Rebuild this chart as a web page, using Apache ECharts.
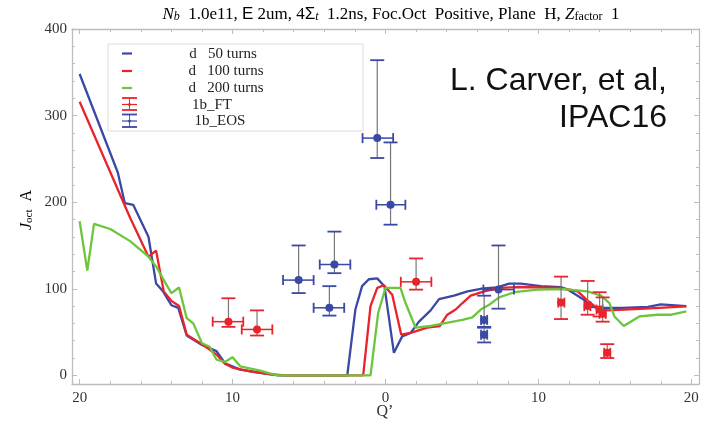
<!DOCTYPE html>
<html>
<head>
<meta charset="utf-8">
<script src="https://cdn.jsdelivr.net/npm/echarts@6/dist/echarts.min.js"></script>
<style>html,body{margin:0;padding:0;background:#fff}#c{width:706px;height:435px}</style>
</head>
<body>
<div id="c"></div>
<script>
// ---- data (Q', J_oct in A) ----
const q50  = [-20,-17.5,-17.05,-16.5,-15.5,-15.0,-14.55,-14.0,-13.55,-13.0,-12.0,-11.05,-10.5,-9.5,-8.2,-7,-2.5,-1.97,-1.53,-1.09,-0.54,-0.07,0.55,1.09,1.64,2.19,2.95,3.5,4.48,5.36,6.23,7.3,8.09,8.85,10.16,11.48,12.02,13.0,13.44,14.1,15.5,17.16,18.0,19.67];
const j50  = [348,234,199,197,160,106,97,81,78,46,35,28,14,6.6,3,0,0,76,103,111,112,103,26,45,49,62,75,88,92,97,100,101.5,106,106,103,102,98,87,79,78,78,79,82,80];
const q100 = [-20,-16.7,-15.5,-15.0,-14.5,-14.0,-13.5,-13.0,-12.0,-11.05,-10.5,-9.95,-8.85,-7.5,-6.5,-1.46,-0.98,-0.54,-0.11,0.44,1.03,1.64,2.73,3.56,4.04,4.59,5.03,5.57,6.45,7.54,8.64,11.48,12.57,13.3,13.9,14.54,17,19.67];
const j100 = [316,182,137,144,97,86,80,47,36,24,13.5,8.5,4.6,1,0,0,80,101,104,93,47,49,55,57,70,76,83.5,92,97,101,102,101,97,85,76.6,75,77,79.6];
const q200 = [-20,-19.5,-19.06,-18.0,-16.7,-15.5,-14.97,-14.5,-14.0,-13.5,-13.0,-12.57,-12.0,-11.5,-11.05,-10.5,-10.0,-9.5,-8.2,-7.1,-0.98,-0.48,0,0.98,1.31,1.97,2.95,3.82,5.03,5.68,6.23,6.78,7.43,8.42,9.95,11.7,13.2,14.1,14.64,14.97,15.58,16.6,17.8,18.7,19.67];
const j200 = [178,121,175,169,155,137,125,110,95,101.5,66,60,37,33,18,15.5,21,10.4,5.4,0,0,72,101,101,83.5,55,57,60,64,67,76,81.5,90,96,99,99.6,97,92,83.5,68,57,68,70,70,74];
// error-bar measurements: [Q', J, Q'low, Q'high, Jlow, Jhigh]
const ftPoints = [
  [-10.27,62,-11.3,-9.3,56,89],
  [-8.4,53,-9.4,-7.4,46,75],
  [2.0,108,1.0,3.0,99,135],
  [11.48,84,11.3,11.7,65,114],
  [13.22,80,13.0,13.4,70,109],
  [14.0,76,13.8,14.2,68,96],
  [14.2,71,14.0,14.4,62,90],
  [14.5,26,14.3,14.7,20,36]
];
const eosPoints = [
  [-0.54,274,-1.5,0.5,251,364],
  [0.33,197,-0.6,1.3,174,269],
  [-5.68,110,-6.7,-4.7,95,150],
  [-3.34,128,-4.3,-2.3,118,166],
  [-3.67,78,-4.7,-2.7,69,103],
  [6.45,64,6.25,6.65,55,92],
  [6.45,47,6.25,6.65,38,56],
  [7.39,99,6.4,8.4,77,150]
];
const xMajor = [-20,-10,0,10,20];
const xMinor = [-20,-18,-16,-14,-12,-10,-8,-6,-4,-2,0,2,4,6,8,10,12,14,16,18,20];
const yMajor = [0,100,200,300,400];
const yMinor = [0,20,40,60,80,100,120,140,160,180,200,220,240,260,280,300,320,340,360,380,400];

const C_BLUE = '#3a48a6', C_RED = '#e8232b', C_GREEN = '#6cc63c';
const SERIF = '"Liberation Serif","DejaVu Serif",serif';
const AXC = '#bdbdbd';

function zip(a,b){return a.map((v,i)=>[v,b[i]]);}

function errRender(color){
  return function(params, api){
    const x = api.value(0), y = api.value(1);
    const p = api.coord([x,y]);
    const xl = api.coord([api.value(2),y])[0];
    const xh = api.coord([api.value(3),y])[0];
    const yl = api.coord([x,api.value(4)])[1];
    const yh = api.coord([x,api.value(5)])[1];
    const cw = 7, ch = 5;
    const ls = (w,c)=>({stroke:c,lineWidth:w});
    return {type:'group', children:[
      {type:'line', shape:{x1:p[0],y1:yl,x2:p[0],y2:yh}, style:ls(1.2,'#777')},
      {type:'line', shape:{x1:p[0]-cw,y1:yl,x2:p[0]+cw,y2:yl}, style:ls(1.8,color)},
      {type:'line', shape:{x1:p[0]-cw,y1:yh,x2:p[0]+cw,y2:yh}, style:ls(1.8,color)},
      {type:'line', shape:{x1:xl,y1:p[1],x2:xh,y2:p[1]}, style:ls(1.5,color)},
      {type:'line', shape:{x1:xl,y1:p[1]-ch,x2:xl,y2:p[1]+ch}, style:ls(1.8,color)},
      {type:'line', shape:{x1:xh,y1:p[1]-ch,x2:xh,y2:p[1]+ch}, style:ls(1.8,color)},
      {type:'circle', shape:{cx:p[0],cy:p[1],r:4}, style:{fill:color}}
    ]};
  };
}

function xAx(pos, vals, len, labels, line){
  return {type:'value', position:pos, min:-20.5, max:20.5,
    axisLine:{show:line, onZero:false, lineStyle:{color:AXC,width:1.3}},
    splitLine:{show:false},
    axisTick:{show:true, inside:true, length:len, customValues:vals, lineStyle:{color:AXC,width:1}},
    axisLabel:{show:labels, customValues:xMajor, formatter:v=>String(Math.abs(v)), fontFamily:SERIF, fontSize:15, color:'#333', margin:7}
  };
}
function yAx(pos, vals, len, labels, line){
  return {type:'value', position:pos, min:-10, max:400,
    axisLine:{show:line, onZero:false, lineStyle:{color:AXC,width:1.3}},
    splitLine:{show:false},
    axisTick:{show:true, inside:true, length:len, customValues:vals, lineStyle:{color:AXC,width:1}},
    axisLabel:{show:labels, customValues:yMajor, fontFamily:SERIF, fontSize:15, color:'#333', margin:5}
  };
}

const chart = echarts.init(document.getElementById('c'));
const legendG = [
  {type:'rect', shape:{x:108,y:44,width:255,height:87}, style:{fill:'#fff',stroke:'#dcdcdc',lineWidth:1}, z:10},
  {type:'line', shape:{x1:122,y1:53.5,x2:132,y2:53.5}, style:{stroke:C_BLUE,lineWidth:2.2}, z:11},
  {type:'line', shape:{x1:122,y1:71,x2:132,y2:71}, style:{stroke:C_RED,lineWidth:2.2}, z:11},
  {type:'line', shape:{x1:122,y1:88,x2:132,y2:88}, style:{stroke:C_GREEN,lineWidth:2.2}, z:11},
  // FT icon
  {type:'line', shape:{x1:129.5,y1:98,x2:129.5,y2:110}, style:{stroke:'#666',lineWidth:1}, z:11},
  {type:'line', shape:{x1:122,y1:98,x2:137,y2:98}, style:{stroke:C_RED,lineWidth:1.8}, z:11},
  {type:'line', shape:{x1:122,y1:110,x2:137,y2:110}, style:{stroke:C_RED,lineWidth:1.8}, z:11},
  {type:'line', shape:{x1:122,y1:104.5,x2:137,y2:104.5}, style:{stroke:C_RED,lineWidth:1.2}, z:11},
  {type:'circle', shape:{cx:129.5,cy:104.5,r:1.5}, style:{fill:C_RED}, z:11},
  // EOS icon
  {type:'line', shape:{x1:129.5,y1:114.5,x2:129.5,y2:127}, style:{stroke:'#666',lineWidth:1}, z:11},
  {type:'line', shape:{x1:122,y1:114.5,x2:137,y2:114.5}, style:{stroke:C_BLUE,lineWidth:1.8}, z:11},
  {type:'line', shape:{x1:122,y1:127,x2:137,y2:127}, style:{stroke:C_BLUE,lineWidth:1.8}, z:11},
  {type:'line', shape:{x1:122,y1:121,x2:137,y2:121}, style:{stroke:C_BLUE,lineWidth:1.2}, z:11},
  {type:'circle', shape:{cx:129.5,cy:121,r:1.5}, style:{fill:C_BLUE}, z:11},
  {type:'text', x:223, y:54, style:{text:'d   50 turns', font:'15px '+SERIF, fill:'#222', align:'center', verticalAlign:'middle'}, z:11},
  {type:'text', x:226, y:71, style:{text:'d   100 turns', font:'15px '+SERIF, fill:'#222', align:'center', verticalAlign:'middle'}, z:11},
  {type:'text', x:226, y:88, style:{text:'d   200 turns', font:'15px '+SERIF, fill:'#222', align:'center', verticalAlign:'middle'}, z:11},
  {type:'text', x:212, y:105, style:{text:'1b_FT', font:'15px '+SERIF, fill:'#222', align:'center', verticalAlign:'middle'}, z:11},
  {type:'text', x:220, y:121, style:{text:'1b_EOS', font:'15px '+SERIF, fill:'#222', align:'center', verticalAlign:'middle'}, z:11}
];

const titleRich = {
  n:{fontFamily:SERIF,fontSize:17,color:'#333',lineHeight:20,verticalAlign:'bottom'},
  i:{fontFamily:SERIF,fontSize:17,fontStyle:'italic',color:'#333',lineHeight:20,verticalAlign:'bottom'},
  s:{fontFamily:'"Liberation Sans",sans-serif',fontSize:17,color:'#333',lineHeight:20,verticalAlign:'bottom'},
  sub:{fontFamily:SERIF,fontSize:12,color:'#333',lineHeight:15,verticalAlign:'bottom'},
  subi:{fontFamily:SERIF,fontSize:12,fontStyle:'italic',color:'#333',lineHeight:15,verticalAlign:'bottom'}
};

chart.setOption({
  animation:false,
  backgroundColor:'#fff',
  grid:{left:72,right:7,top:29,bottom:51},
  xAxis:[
    xAx('bottom', xMajor, 5, true, true),
    xAx('bottom', xMinor, 3, false, false),
    xAx('top', xMajor, 5, false, true),
    xAx('top', xMinor, 3, false, false)
  ],
  yAxis:[
    yAx('left', yMajor, 5, true, true),
    yAx('left', yMinor, 3, false, false),
    yAx('right', yMajor, 5, false, true),
    yAx('right', yMinor, 3, false, false)
  ],
  graphic:[
    {type:'text', x:391, y:3, style:{
      rich:titleRich, align:'center',
      text:'{i|N}{subi|b}{n|  1.0e11, }{s|E}{n| 2um, 4}{s|Σ}{subi|t}{n|  1.2ns, Foc.Oct  Positive, Plane  H, }{i|Z}{sub|factor}{n|  1}'
    }, z:20},
    {type:'text', x:667, y:65, style:{text:'L. Carver, et al,', font:'32px "Liberation Sans",Arial,sans-serif', fill:'#111', align:'right', verticalAlign:'alphabetic'}, z:20},
    {type:'text', x:667, y:102, style:{text:'IPAC16', font:'32px "Liberation Sans",Arial,sans-serif', fill:'#111', align:'right', verticalAlign:'alphabetic'}, z:20},
    {type:'text', x:385, y:412, style:{text:'Q’', font:'16px '+SERIF, fill:'#333', align:'center', verticalAlign:'middle'}, z:20},
    {type:'text', x:25, y:210, rotation:Math.PI/2, style:{
      rich:{
        i:{fontFamily:SERIF,fontSize:16,fontStyle:'italic',color:'#333',lineHeight:20,verticalAlign:'bottom'},
        sub:{fontFamily:SERIF,fontSize:11,color:'#333',lineHeight:15,verticalAlign:'bottom'},
        n:{fontFamily:SERIF,fontSize:16,color:'#333',lineHeight:20,verticalAlign:'bottom'}
      },
      text:'{i|J}{sub|oct}{n|  A}', align:'center', verticalAlign:'middle'
    }, z:20}
  ].concat(legendG),
  series:[
    {type:'line', name:'50', data:zip(q50,j50), showSymbol:false, lineStyle:{color:C_BLUE,width:2.3}, z:3},
    {type:'line', name:'100', data:zip(q100,j100), showSymbol:false, lineStyle:{color:C_RED,width:2.3}, z:3},
    {type:'line', name:'200', data:zip(q200,j200), showSymbol:false, lineStyle:{color:C_GREEN,width:2.3}, z:3},
    {type:'custom', name:'1b_FT', data:ftPoints, renderItem:errRender(C_RED), encode:{x:0,y:1}, z:5},
    {type:'custom', name:'1b_EOS', data:eosPoints, renderItem:errRender(C_BLUE), encode:{x:0,y:1}, z:5}
  ]
});
</script>
</body>
</html>
